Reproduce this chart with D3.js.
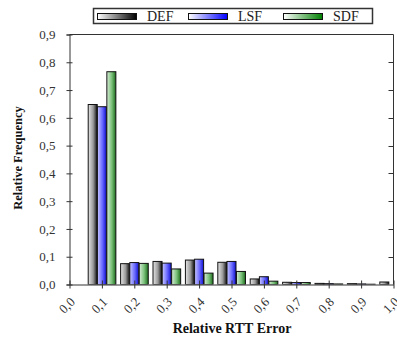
<!DOCTYPE html>
<html>
<head>
<meta charset="utf-8">
<script src="https://cdn.jsdelivr.net/npm/d3@7"></script>
<style>
  html, body { margin: 0; padding: 0; background: #fff; }
  svg { display: block; }
  text { font-family: "Liberation Serif", "Times New Roman", serif; }
</style>
</head>
<body>
<svg id="chart" width="397" height="339"></svg>
<script>
// Relative RTT error histogram for the three estimators
const categories = [0.1, 0.2, 0.3, 0.4, 0.5, 0.6, 0.7, 0.8, 0.9, 1.0];
const seriesNames = ["DEF", "LSF", "SDF"];
const defValues = [0.648, 0.075, 0.083, 0.088, 0.080, 0.020, 0.008, 0.004, 0.003, 0.009];
const lsfValues = [0.640, 0.079, 0.077, 0.091, 0.083, 0.028, 0.007, 0.003, 0.002, 0.000];
const sdfValues = [0.766, 0.076, 0.056, 0.041, 0.047, 0.012, 0.007, 0.002, 0.001, 0.000];
const xTickValues = [0.0, 0.1, 0.2, 0.3, 0.4, 0.5, 0.6, 0.7, 0.8, 0.9, 1.0];
const yTickValues = [0.0, 0.1, 0.2, 0.3, 0.4, 0.5, 0.6, 0.7, 0.8, 0.9];

const series = [defValues, lsfValues, sdfValues];
const fmt = v => v.toFixed(1).replace(".", ",");

const svg = d3.select("#chart");
const m = { left: 69.5, right: 393.5, top: 34.5, bottom: 284.5 };

const x = d3.scaleLinear().domain([0, 1]).range([m.left, m.right]);
const y = d3.scaleLinear().domain([0, 0.9]).range([m.bottom, m.top]);

// Gradients: light on the left, deep colour on the right
const defs = svg.append("defs");
const gradSpec = [
  { id: "gDEF", stops: ["#e6e6e6", "#9a9a9a", "#111"] },
  { id: "gLSF", stops: ["#c8c8ff", "#6a6aff", "#1010d0"] },
  { id: "gSDF", stops: ["#d8ecd8", "#79c079", "#1d6d1d"] }
];
gradSpec.forEach(g => {
  const lg = defs.append("linearGradient").attr("id", g.id)
    .attr("x1", "0%").attr("x2", "100%").attr("y1", "0%").attr("y2", "0%");
  lg.append("stop").attr("offset", "0%").attr("stop-color", g.stops[0]);
  lg.append("stop").attr("offset", "55%").attr("stop-color", g.stops[1]);
  lg.append("stop").attr("offset", "100%").attr("stop-color", g.stops[2]);
});
const legendGrad = [
  { id: "lDEF", a: "#ffffff", b: "#000000" },
  { id: "lLSF", a: "#ffffff", b: "#0000ff" },
  { id: "lSDF", a: "#ffffff", b: "#008000" }
];
legendGrad.forEach(g => {
  const lg = defs.append("linearGradient").attr("id", g.id)
    .attr("x1", "0%").attr("x2", "100%").attr("y1", "0%").attr("y2", "0%");
  lg.append("stop").attr("offset", "0%").attr("stop-color", g.a);
  lg.append("stop").attr("offset", "100%").attr("stop-color", g.b);
});
defs.append("clipPath").attr("id", "plotClip")
  .append("rect").attr("x", m.left).attr("y", m.top - 1)
  .attr("width", m.right - m.left).attr("height", m.bottom - m.top + 1);

// Bars
const bw = 0.0278;
const offsets = [-1.52, -0.5, 0.55];
const barG = svg.append("g").attr("clip-path", "url(#plotClip)");
series.forEach((vals, si) => {
  barG.selectAll(null).data(categories.map((c, i) => ({ c, v: vals[i] })))
    .enter().append("rect")
    .attr("x", d => x(d.c + offsets[si] * bw))
    .attr("width", d => x(bw) - x(0))
    .attr("y", d => y(d.v))
    .attr("height", d => y(0) - y(d.v))
    .attr("fill", `url(#${gradSpec[si].id})`)
    .attr("stroke", "#111")
    .attr("stroke-width", 1);
});

// Frame (top and right edges) with inward ticks
const frameColor = "#333";
svg.append("line").attr("x1", m.left).attr("x2", m.right).attr("y1", m.top).attr("y2", m.top)
  .attr("stroke", frameColor);
svg.append("line").attr("x1", m.right).attr("x2", m.right).attr("y1", m.top).attr("y2", m.bottom)
  .attr("stroke", frameColor);
svg.append("g").selectAll("line").data(yTickValues.slice(1, -1)).enter().append("line")
  .attr("x1", m.right - 5).attr("x2", m.right)
  .attr("y1", d => Math.round(y(d)) + 0.5).attr("y2", d => Math.round(y(d)) + 0.5)
  .attr("stroke", frameColor);

// Left axis
const yAxis = svg.append("g").attr("transform", `translate(${m.left},0)`)
  .call(d3.axisLeft(y).tickValues(yTickValues).tickFormat(fmt).tickSize(3).tickSizeInner(3));
yAxis.select(".domain").attr("stroke", frameColor);
yAxis.selectAll(".tick line").attr("x2", 3).attr("x1", -3).attr("stroke", frameColor);
yAxis.selectAll(".tick text").attr("x", -14).attr("fill", "#333")
  .style("font-size", "13px").style("font-family", "Liberation Serif, serif");

// Bottom axis
const xAxis = svg.append("g").attr("transform", `translate(0,${m.bottom})`)
  .call(d3.axisBottom(x).tickValues(xTickValues).tickFormat(fmt).tickSize(4).tickSizeOuter(0));
xAxis.select(".domain").attr("stroke", frameColor);
xAxis.selectAll(".tick line").attr("y1", -4).attr("y2", 4).attr("stroke", frameColor);
xAxis.selectAll(".tick text")
  .attr("y", 0).attr("dy", 0)
  .attr("text-anchor", "middle")
  .attr("transform", "translate(0,24) rotate(-45)")
  .attr("fill", "#333")
  .style("font-size", "13px").style("font-family", "Liberation Serif, serif");

// Axis titles
svg.append("text").attr("x", 232).attr("y", 333).attr("text-anchor", "middle")
  .style("font-size", "14px").style("font-weight", "bold").attr("fill", "#111")
  .text("Relative RTT Error");
svg.append("text").attr("transform", "translate(22,158) rotate(-90)").attr("text-anchor", "middle")
  .style("font-size", "12.5px").style("font-weight", "bold").attr("fill", "#111")
  .text("Relative Frequency");

// Legend
const lg = svg.append("g");
lg.append("rect").attr("x", 93.5).attr("y", 8.5).attr("width", 279).attr("height", 15)
  .attr("fill", "#fff").attr("stroke", "#333").attr("stroke-width", 1.5);
const legendX = [97, 188, 283];
seriesNames.forEach((name, i) => {
  lg.append("rect").attr("x", legendX[i] + 0.5).attr("y", 13.5).attr("width", 39).attr("height", 6)
    .attr("fill", `url(#${legendGrad[i].id})`).attr("stroke", "#111");
  lg.append("text").attr("x", legendX[i] + 50).attr("y", 21)
    .style("font-size", "14px").attr("fill", "#222").text(name);
});
</script>
</body>
</html>
